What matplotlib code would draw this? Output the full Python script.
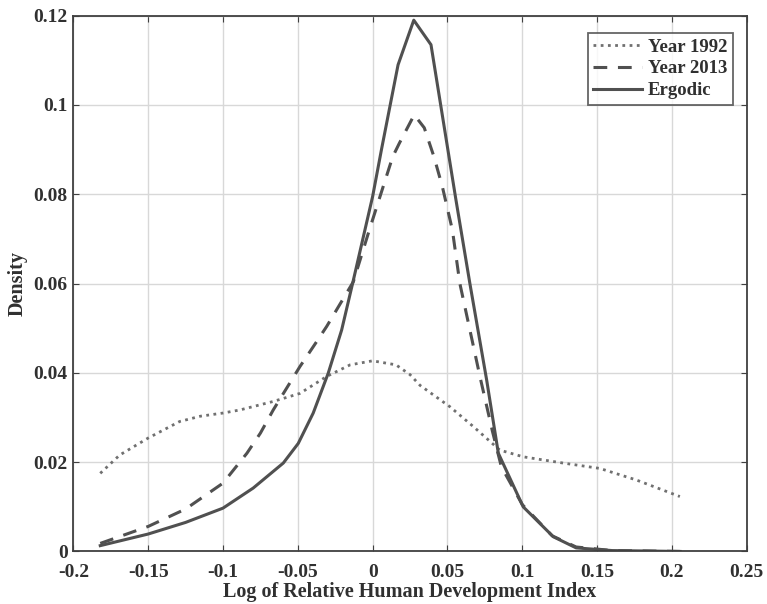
import matplotlib
matplotlib.use("Agg")
import matplotlib.pyplot as plt

# Year 1992 density (dotted)
x_1992 = [-0.182, -0.169, -0.15, -0.129, -0.115, -0.1, -0.0886, -0.0664, -0.0486, -0.0307,
          -0.015, 0.0, 0.0156, 0.025, 0.0317, 0.0517, 0.0672, 0.085, 0.1006, 0.1273,
          0.1518, 0.1763, 0.2053]
y_1992 = [0.0175, 0.0216, 0.0254, 0.0291, 0.0303, 0.031, 0.0317, 0.0336, 0.0354, 0.0392,
          0.0418, 0.0427, 0.0418, 0.0396, 0.0372, 0.0324, 0.028, 0.0227, 0.0212, 0.0198,
          0.0186, 0.016, 0.0123]

# Year 2013 density (dashed)
x_2013 = [-0.182, -0.15, -0.125, -0.1, -0.084, -0.075, -0.0664, -0.0486, -0.0374, -0.0307,
          -0.0129, -0.0022, 0.0134, 0.0178, 0.0278, 0.0345, 0.041, 0.0466, 0.0533, 0.0583,
          0.0717, 0.08, 0.086, 0.1, 0.12, 0.136, 0.16, 0.2055]
y_2013 = [0.0018, 0.0056, 0.0095, 0.0153, 0.022, 0.0265, 0.0317, 0.0414, 0.047, 0.0504,
          0.0604, 0.072, 0.0884, 0.0914, 0.0978, 0.0949, 0.0884, 0.0817, 0.072, 0.060,
          0.0392, 0.027, 0.019, 0.0105, 0.0035, 0.001, 0.0002, 0.0]

# Ergodic density (solid)
x_erg = [-0.182, -0.15, -0.125, -0.1, -0.0798, -0.0597, -0.0497, -0.0397, -0.0297, -0.0207,
         -0.0134, 0.0, 0.0059, 0.017, 0.0275, 0.039, 0.0557, 0.065, 0.0762, 0.084,
         0.1006, 0.1207, 0.136, 0.16, 0.2055]
y_erg = [0.0013, 0.0039, 0.0065, 0.0097, 0.0142, 0.0198, 0.0242, 0.031, 0.0399, 0.0496,
         0.060, 0.0795, 0.09, 0.109, 0.119, 0.1135, 0.0787, 0.060, 0.0384, 0.022,
         0.010, 0.0033, 0.0008, 0.0002, 0.0]

x_ticks = [-0.2, -0.15, -0.1, -0.05, 0, 0.05, 0.1, 0.15, 0.2, 0.25]
x_tick_labels = ["-0.2", "-0.15", "-0.1", "-0.05", "0", "0.05", "0.1", "0.15", "0.2", "0.25"]
y_ticks = [0, 0.02, 0.04, 0.06, 0.08, 0.1, 0.12]
y_tick_labels = ["0", "0.02", "0.04", "0.06", "0.08", "0.1", "0.12"]

plt.rcParams["font.family"] = ["Liberation Serif", "DejaVu Serif"]
plt.rcParams["font.weight"] = "bold"

line_color = "#505050"
text_color = "#303030"

fig = plt.figure(figsize=(7.67, 6.04), dpi=100)
ax = fig.add_axes([0.0956, 0.087, 0.878, 0.887])

ax.plot(x_1992, y_1992, color="#707070", linestyle=(0, (1, 1.6)), linewidth=2.0, label="Year 1992")
ax.plot(x_2013, y_2013, color=line_color, linestyle=(0, (4.5, 3.5)), linewidth=2.2, label="Year 2013")
ax.plot(x_erg, y_erg, color=line_color, linestyle="-", linewidth=2.2, label="Ergodic")

ax.set_xlim(-0.2, 0.25)
ax.set_ylim(0, 0.12)
ax.set_xticks(x_ticks)
ax.set_xticklabels(x_tick_labels)
ax.set_yticks(y_ticks)
ax.set_yticklabels(y_tick_labels)
ax.tick_params(direction="in", labelsize=14, length=4, color="#404040", top=True, right=True,
               labeltop=False, labelright=False)
ax.tick_params(axis="x", pad=9)
ax.tick_params(axis="y", pad=4)
for lab in ax.get_xticklabels() + ax.get_yticklabels():
    lab.set_fontweight("bold")
    lab.set_color(text_color)

ax.grid(True, color="#d8d8d8", linewidth=1.0)
for spine in ax.spines.values():
    spine.set_color("#404040")
    spine.set_linewidth(1.3)

ax.set_xlabel("Log of Relative Human Development Index", fontsize=14.5, fontweight="bold",
              color=text_color, labelpad=1)
ax.set_ylabel("Density", fontsize=14.5, fontweight="bold", color=text_color, labelpad=4)

leg = ax.legend(loc="upper right", fontsize=13.5, frameon=True, fancybox=False,
                handlelength=2.6, handletextpad=0.3, borderpad=0.3, labelspacing=0.25,
                bbox_to_anchor=(0.979, 0.968), borderaxespad=0.0)
leg.get_frame().set_edgecolor("#404040")
leg.get_frame().set_linewidth(1.3)
for t in leg.get_texts():
    t.set_fontweight("bold")
    t.set_color(text_color)

fig.savefig("out.png", dpi=100)
